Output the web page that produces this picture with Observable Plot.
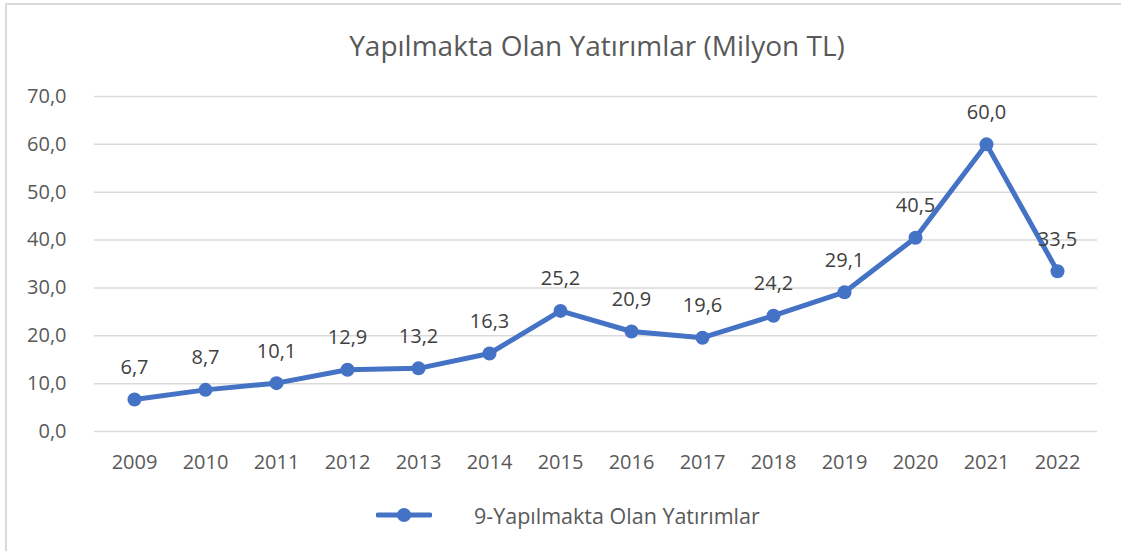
<!DOCTYPE html>
<html>
<head>
<meta charset="utf-8">
<script src="https://cdn.jsdelivr.net/npm/d3@7"></script>
<script src="https://cdn.jsdelivr.net/npm/@observablehq/plot@0.6"></script>
<style>
  html, body { margin: 0; padding: 0; background: #fff; }
  #wrap { position: relative; width: 1121px; height: 551px; overflow: hidden; font-family: "Open Sans", Lato, sans-serif; color: #595959; }
  #frame { position: absolute; left: 5px; top: 3px; width: 1130px; height: 560px; border: 2px solid #d9d9d9; box-sizing: border-box; }
  #title { position: absolute; left: 0; width: 1194px; top: 25px; text-align: center; font-size: 28px; line-height: 40px; color: #595959; }
  #chart { position: absolute; left: 0; top: 70px; }
  #legend { position: absolute; left: 376px; top: 500px; height: 30px; display: flex; align-items: center; font-size: 21.5px; color: #595959; }
  #legend svg { margin-right: 42px; }
</style>
</head>
<body>
<div id="wrap">
  <div id="frame"></div>
  <div id="title">Yapılmakta Olan Yatırımlar (Milyon TL)</div>
  <div id="chart"></div>
  <div id="legend"></div>
</div>
<script>
const years = ["2009","2010","2011","2012","2013","2014","2015","2016","2017","2018","2019","2020","2021","2022"];
const values = [6.7, 8.7, 10.1, 12.9, 13.2, 16.3, 25.2, 20.9, 19.6, 24.2, 29.1, 40.5, 60.0, 33.5];
const yTicks = [0, 10, 20, 30, 40, 50, 60, 70];
const seriesName = "9-Yapılmakta Olan Yatırımlar";
const color = "#4472C4";

const data = years.map((y, i) => ({year: y, value: values[i]}));
const fmt = v => v.toFixed(1).replace(".", ",");

const plot = Plot.plot({
  width: 1121,
  height: 420,
  marginLeft: 94,
  marginRight: 24,
  marginTop: 26,
  marginBottom: 59,
  style: {fontFamily: "'Open Sans', Lato, sans-serif", fontSize: "20px", color: "#595959", background: "transparent"},
  x: {type: "point", domain: years, padding: 0.5, label: null},
  y: {domain: [0, 70], label: null},
  marks: [
    Plot.ruleY(yTicks, {stroke: "#d9d9d9", strokeWidth: 1.5}),
    Plot.axisY({ticks: yTicks, tickFormat: fmt, tickSize: 0, tickPadding: 28, fontSize: 20, fill: "#595959"}),
    Plot.axisX({tickSize: 0, tickPadding: 23, fontSize: 20, fill: "#595959"}),
    Plot.line(data, {x: "year", y: "value", stroke: color, strokeWidth: 5, strokeLinejoin: "round"}),
    Plot.dot(data, {x: "year", y: "value", r: 7, fill: color, stroke: null}),
    Plot.text(data, {x: "year", y: "value", text: d => fmt(d.value), dy: -32, fontSize: 20, fill: "#404040"})
  ]
});
document.getElementById("chart").appendChild(plot);

// legend
const leg = d3.select("#legend");
const ls = leg.append("svg").attr("width", 56).attr("height", 20);
ls.append("line").attr("x1", 2).attr("x2", 54).attr("y1", 10).attr("y2", 10).attr("stroke", color).attr("stroke-width", 5).attr("stroke-linecap", "round");
ls.append("circle").attr("cx", 28).attr("cy", 10).attr("r", 7).attr("fill", color);
leg.append("span").text(seriesName);
</script>
</body>
</html>
